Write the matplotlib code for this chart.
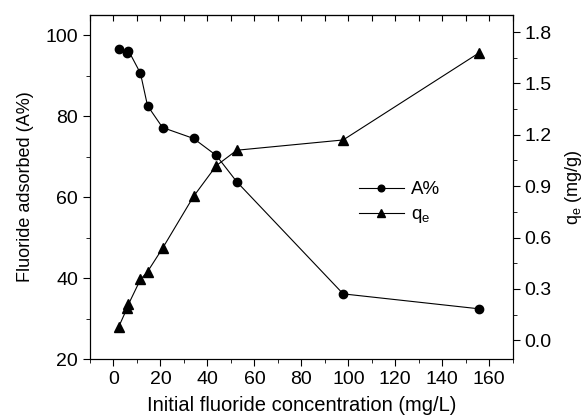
import matplotlib
matplotlib.use("Agg")
import matplotlib.pyplot as plt
from matplotlib.ticker import MultipleLocator

#-->Fuente tipo Arial
plt.rcParams["font.family"] = ["Liberation Sans", "DejaVu Sans"]
plt.rcParams["mathtext.default"] = "regular"

#-->Datos
concentracion = [2.3, 5.9, 6.4, 11.5, 14.5, 20.9, 34.1, 43.8, 52.5, 97.8, 155.8]
adsorcion_pct = [96.6, 95.7, 96.2, 90.6, 82.6, 77.2, 74.5, 70.3, 63.8, 36.1, 32.4]
qe = [0.08, 0.19, 0.21, 0.355, 0.40, 0.537, 0.84, 1.02, 1.11, 1.17, 1.68]

fig = plt.figure(figsize=(5.88, 4.17), dpi=100)
ax = fig.add_axes([0.153, 0.139, 0.719, 0.825])
ax2 = ax.twinx()

#-->Curvas
l1, = ax.plot(concentracion, adsorcion_pct, color="black", linewidth=0.8,
              marker="o", markersize=6, label="A%")
l2, = ax2.plot(concentracion, qe, color="black", linewidth=0.8,
               marker="^", markersize=7, label="q$_e$")

#-->Ejes
ax.set_xlim(-10, 170)
ax.set_ylim(20, 105)
ax2.set_ylim(-0.11, 1.90)

ax.xaxis.set_major_locator(MultipleLocator(20))
ax.xaxis.set_minor_locator(MultipleLocator(10))
ax.yaxis.set_major_locator(MultipleLocator(20))
ax.yaxis.set_minor_locator(MultipleLocator(10))
ax2.yaxis.set_major_locator(MultipleLocator(0.3))
ax2.yaxis.set_minor_locator(MultipleLocator(0.15))
ax2.yaxis.set_major_formatter(matplotlib.ticker.FormatStrFormatter("%.1f"))

ax.tick_params(axis="x", which="both", direction="out", top=False, labelsize=14)
ax.tick_params(axis="x", which="major", length=5)
ax.tick_params(axis="x", which="minor", length=3)
ax.tick_params(axis="y", which="both", direction="out", right=False, labelsize=14)
ax.tick_params(axis="y", which="major", length=5)
ax.tick_params(axis="y", which="minor", length=3)
ax2.tick_params(axis="y", which="both", direction="out", labelsize=14)
ax2.tick_params(axis="y", which="major", length=5)
ax2.tick_params(axis="y", which="minor", length=3)

#-->Ticks hacia adentro en el borde superior
ax_top = ax.secondary_xaxis("top")
ax_top.xaxis.set_major_locator(MultipleLocator(10))
ax_top.tick_params(direction="in", length=4, labeltop=False)

ax.set_xlabel("Initial fluoride concentration (mg/L)", fontsize=14.5, labelpad=6)
ax.set_ylabel("Fluoride adsorbed (A%)", fontsize=13, labelpad=8)
ax2.set_ylabel("q$_e$ (mg/g)", fontsize=13, labelpad=8)

#-->Leyenda sin marco
ax.legend(handles=[l1, l2], loc="center left", bbox_to_anchor=(0.636, 0.453),
          frameon=False, fontsize=13.5, borderpad=0, borderaxespad=0,
          handlelength=2.4, handletextpad=0.4, labelspacing=0.4, markerscale=0.8)

fig.savefig("out.png", dpi=100)
